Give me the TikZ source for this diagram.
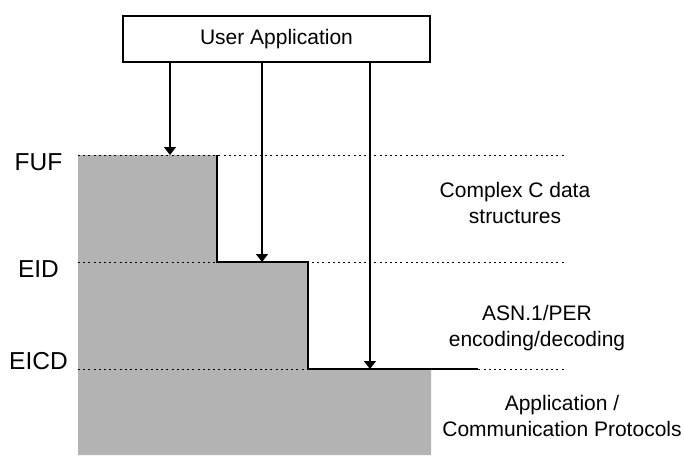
\documentclass[tikz,border=0pt]{standalone}
\usepackage{fontspec}
\setmainfont{Liberation Sans}
\usetikzlibrary{arrows.meta}
\definecolor{layergray}{RGB}{179,179,179}
\tikzset{
  lbl/.style={inner sep=0pt, font=\fontsize{21}{26}\selectfont, align=center},
  lvlname/.style={inner sep=0pt, font=\fontsize{24.5}{29}\selectfont, anchor=base},
  appbox/.style={draw, line width=1.6pt, minimum width=307pt, minimum height=46pt,
                 inner sep=0pt, font=\fontsize{21}{26}\selectfont},
  call/.style={line width=1.2pt, -{Triangle[width=12pt,length=8pt]}},
  level/.style={line width=0.9pt, dash pattern=on 2pt off 3.2pt},
  stepedge/.style={line width=1.2pt}
}
\begin{document}
\begin{tikzpicture}[x=1pt, y=-1pt]
  \useasboundingbox (0,0) rectangle (684,455);

  % shaded stack of layers
  \fill[layergray] (78,155) -- (217,155) -- (217,262) -- (308,262) -- (308,369)
                   -- (431,369) -- (431,455) -- (78,455) -- cycle;
  \draw[stepedge] (217,155) -- (217,262) -- (308,262) -- (308,369) -- (478,369);

  % interface levels
  \coordinate (fufL) at (78,155);  \coordinate (fufR) at (565,155);
  \coordinate (eidL) at (78,262);  \coordinate (eidR) at (565,262);
  \coordinate (eicdL) at (78,369); \coordinate (eicdR) at (565,369);
  \draw[level] (fufL) -- (fufR);
  \draw[level] (eidL) -- (eidR);
  \draw[level] (eicdL) -- (eicdR);

  \node[lvlname] (fuf) at (38.5,170) {FUF};
  \node[lvlname] (eid) at (38.5,277) {EID};
  \node[lvlname] (eicd) at (38.5,369) {EICD};

  % application and its calls into each level
  \node[appbox] (app) at (276.5,39) {User Application};
  \coordinate (t1) at (170,155);
  \coordinate (t2) at (262,262);
  \coordinate (t3) at (370,369);
  \draw[call] (app.south -| t1) -- (t1);
  \draw[call] (app.south -| t2) -- (t2);
  \draw[call] (app.south -| t3) -- (t3);

  % layer descriptions
  \node[lbl, anchor=north] (cdata) at (515,182) {Complex C data\\structures};
  \node[lbl, anchor=north] (per) at (537,305) {ASN.1/PER\\encoding/decoding};
  \node[lbl, anchor=north] (proto) at (562,395) {Application /\\Communication Protocols};
\end{tikzpicture}
\end{document}
